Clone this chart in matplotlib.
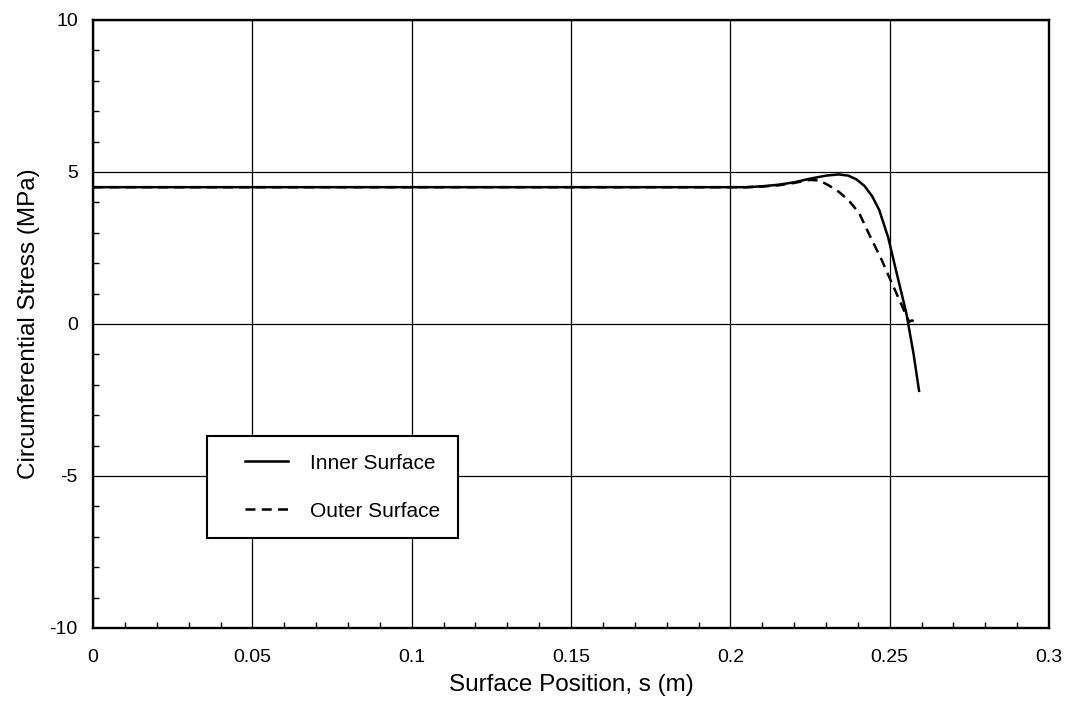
import numpy as np
import matplotlib
matplotlib.use("Agg")
import matplotlib.pyplot as plt
from matplotlib.ticker import MultipleLocator, FuncFormatter
from matplotlib.legend_handler import HandlerLine2D
from matplotlib.lines import Line2D

plt.rcParams['font.family'] = ['Liberation Sans', 'DejaVu Sans']
plt.rcParams['axes.unicode_minus'] = False

# surface position s (m) and circumferential stress (MPa)
s_inner = [0.0, 0.05, 0.10, 0.15, 0.20, 0.205, 0.21, 0.215, 0.22, 0.225, 0.23,
           0.234, 0.237, 0.2395, 0.242, 0.2445, 0.2467, 0.2495, 0.252, 0.2552,
           0.2575, 0.2592]
stress_inner = [4.5, 4.5, 4.5, 4.5, 4.5, 4.5, 4.53, 4.58, 4.66, 4.78, 4.88,
                4.92, 4.88, 4.76, 4.55, 4.2, 3.75, 2.85, 1.75, 0.36, -1.0, -2.2]

s_outer = [0.0, 0.05, 0.10, 0.15, 0.20, 0.205, 0.21, 0.215, 0.22, 0.225, 0.228,
           0.231, 0.234, 0.237, 0.2404, 0.244, 0.2475, 0.2498, 0.254, 0.2561,
           0.257, 0.258, 0.2592]
stress_outer = [4.5, 4.5, 4.5, 4.5, 4.5, 4.5, 4.52, 4.56, 4.64, 4.74, 4.72,
                4.55, 4.35, 4.08, 3.65, 2.85, 2.1, 1.55, 0.56, 0.07,
                0.12, 0.05, 0.05]

fig = plt.figure(figsize=(10.67, 7.04), dpi=100)
ax = fig.add_axes([0.0872, 0.108, 0.896, 0.8636])

ax.plot(s_inner, stress_inner, color='black', lw=1.8, label='Inner Surface')
ax.plot(s_outer, stress_outer, color='black', lw=1.8, linestyle=(0, (4, 2.5)),
        label='Outer Surface')

ax.set_xlim(0, 0.3)
ax.set_ylim(-10, 10)
ax.xaxis.set_major_locator(MultipleLocator(0.05))
ax.xaxis.set_minor_locator(MultipleLocator(0.01))
ax.yaxis.set_major_locator(MultipleLocator(5))
ax.yaxis.set_minor_locator(MultipleLocator(1))
ax.xaxis.set_major_formatter(FuncFormatter(lambda v, p: '%g' % round(v, 2)))
ax.yaxis.set_major_formatter(FuncFormatter(lambda v, p: '%g' % v))

ax.grid(True, which='major', color='black', lw=0.9)
ax.set_axisbelow(True)
ax.tick_params(which='both', direction='in', top=False, right=False)
ax.tick_params(which='major', length=0, labelsize=14)
ax.tick_params(axis='x', which='major', pad=15)
ax.tick_params(axis='y', which='major', pad=11)
ax.tick_params(which='minor', length=4, width=1)
for sp in ax.spines.values():
    sp.set_linewidth(1.7)

ax.set_xlabel('Surface Position, s (m)', fontsize=17.5, labelpad=6)
ax.set_ylabel('Circumferential Stress (MPa)', fontsize=17.5, labelpad=7)

leg = ax.legend(loc='upper left', bbox_to_anchor=(0.119, 0.316), borderaxespad=0,
                fontsize=15, frameon=True, fancybox=False, framealpha=1,
                edgecolor='black', borderpad=0.85, labelspacing=1.4,
                numpoints=2, handlelength=4.0, handletextpad=0.12,
                handler_map={Line2D: HandlerLine2D(marker_pad=0.97)})
leg.get_frame().set_linewidth(1.5)

fig.savefig('out.png', dpi=100)
